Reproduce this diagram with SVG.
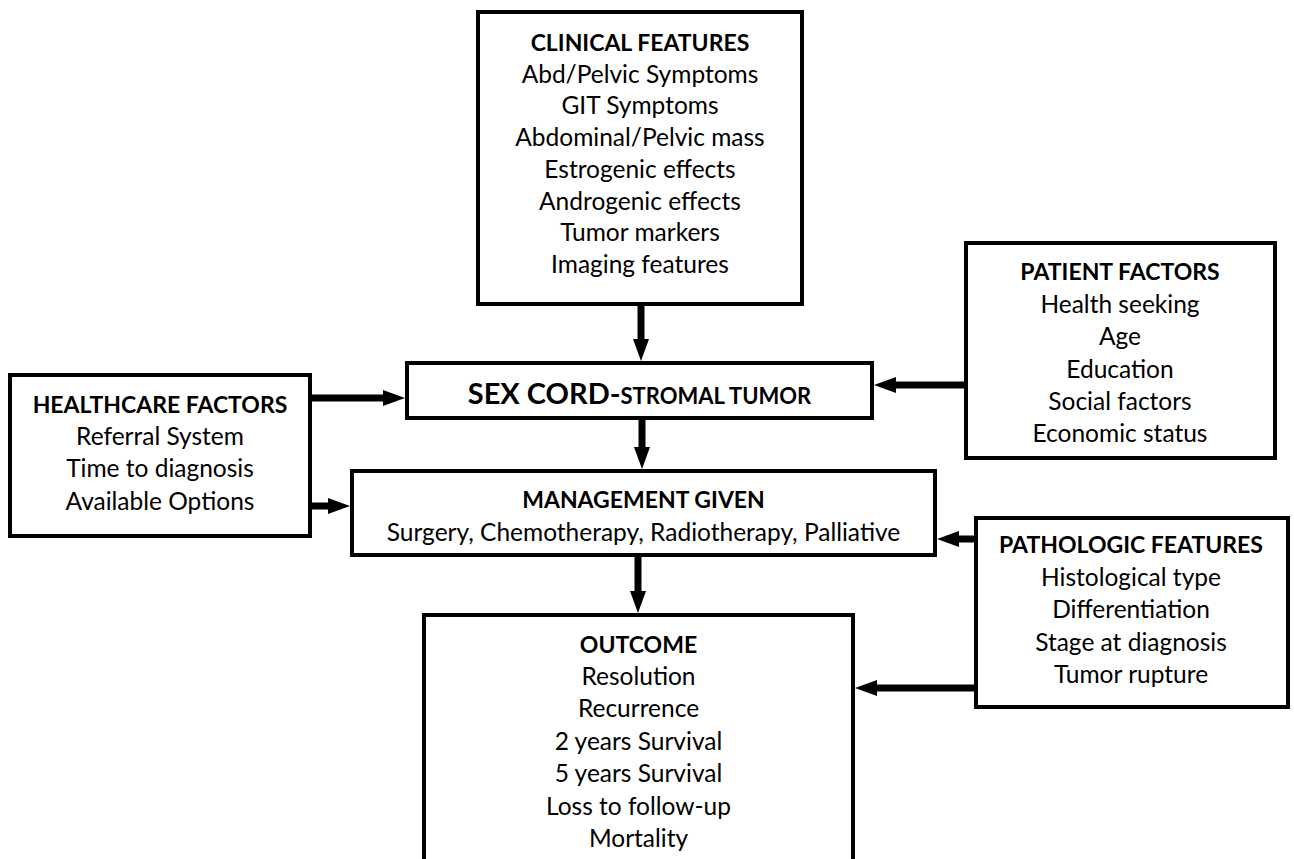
<svg xmlns="http://www.w3.org/2000/svg" width="1294" height="859" viewBox="0 0 1294 859">
<style>
.box{fill:#fff;stroke:#000;stroke-width:4}
text{font-family:Lato,"Open Sans","Liberation Sans",sans-serif;font-size:24.5px;fill:#000;text-anchor:middle}
.t{font-weight:bold;font-size:23px}
.c{fill:none;stroke:#000;stroke-width:7}
</style>
<defs>
<marker id="ah" viewBox="0 0 22 16" refX="12" refY="8" markerWidth="22" markerHeight="16" markerUnits="userSpaceOnUse" orient="auto">
<path d="M0,0 L22,8 L0,16 Z" fill="#000"/>
</marker>
</defs>
<rect width="1294" height="859" fill="#fff"/>
<g id="connectors">
<path class="c" d="M641,306 V351" marker-end="url(#ah)"/>
<path class="c" d="M642,420 V459" marker-end="url(#ah)"/>
<path class="c" d="M638,557 V603" marker-end="url(#ah)"/>
<path class="c" d="M312,398 H395" marker-end="url(#ah)"/>
<path class="c" d="M312,506 H340" marker-end="url(#ah)"/>
<path class="c" d="M964,385 H884" marker-end="url(#ah)"/>
<path class="c" d="M974,539 H947" marker-end="url(#ah)"/>
<path class="c" d="M974,688 H865" marker-end="url(#ah)"/>
</g>
<g id="clinical">
<rect class="box" x="478" y="12" width="324" height="292"/>
<text x="640" y="51" class="t">CLINICAL FEATURES</text>
<text x="640" y="83">Abd/Pelvic Symptoms</text>
<text x="640" y="114">GIT Symptoms</text>
<text x="640" y="146">Abdominal/Pelvic mass</text>
<text x="640" y="178">Estrogenic effects</text>
<text x="640" y="210">Androgenic effects</text>
<text x="640" y="241">Tumor markers</text>
<text x="640" y="273">Imaging features</text>
</g>
<g id="sexcord">
<rect class="box" x="407" y="363" width="465" height="55"/>
<text x="639.5" y="404" class="t"><tspan font-size="29">SEX CORD-</tspan><tspan font-size="22">STROMAL TUMOR</tspan></text>
</g>
<g id="healthcare">
<rect class="box" x="10" y="375" width="300" height="161"/>
<text x="160" y="413" class="t">HEALTHCARE FACTORS</text>
<text x="160" y="445">Referral System</text>
<text x="160" y="477">Time to diagnosis</text>
<text x="160" y="510">Available Options</text>
</g>
<g id="patient">
<rect class="box" x="966" y="243" width="309" height="215"/>
<text x="1120" y="280" class="t">PATIENT FACTORS</text>
<text x="1120" y="313">Health seeking</text>
<text x="1120" y="345">Age</text>
<text x="1120" y="378">Education</text>
<text x="1120" y="410">Social factors</text>
<text x="1120" y="442">Economic status</text>
</g>
<g id="management">
<rect class="box" x="352" y="471" width="583" height="84"/>
<text x="643.5" y="508" class="t">MANAGEMENT GIVEN</text>
<text x="643.5" y="541">Surgery, Chemotherapy, Radiotherapy, Palliative</text>
</g>
<g id="pathologic">
<rect class="box" x="976" y="518" width="312" height="189"/>
<text x="1131" y="553" class="t">PATHOLOGIC FEATURES</text>
<text x="1131" y="586">Histological type</text>
<text x="1131" y="618">Differentiation</text>
<text x="1131" y="651">Stage at diagnosis</text>
<text x="1131" y="683">Tumor rupture</text>
</g>
<g id="outcome">
<rect class="box" x="424" y="615" width="429" height="270"/>
<text x="638.5" y="653" class="t">OUTCOME</text>
<text x="638.5" y="685">Resolution</text>
<text x="638.5" y="717">Recurrence</text>
<text x="638.5" y="750">2 years Survival</text>
<text x="638.5" y="782">5 years Survival</text>
<text x="638.5" y="815">Loss to follow-up</text>
<text x="638.5" y="847">Mortality</text>
</g>
</svg>
